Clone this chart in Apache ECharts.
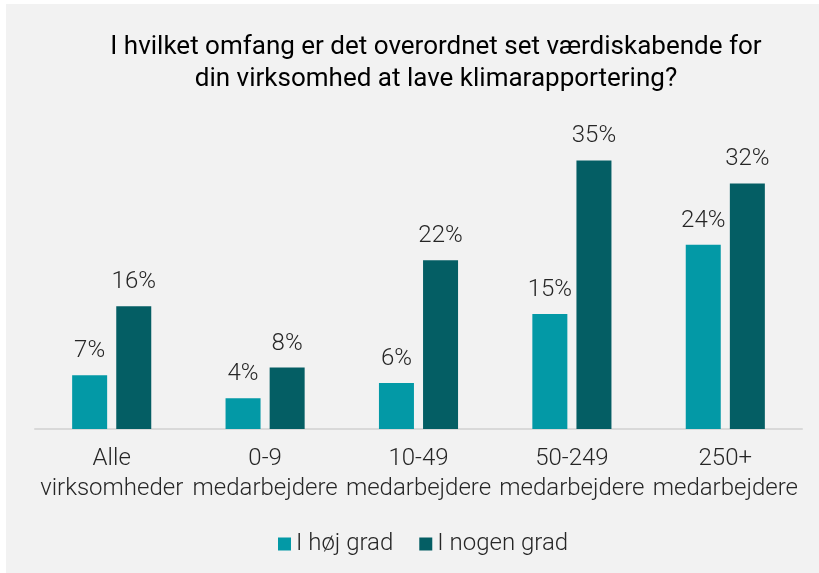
<!DOCTYPE html>
<html>
<head>
<meta charset="utf-8">
<script src="https://cdn.jsdelivr.net/npm/echarts@6/dist/echarts.min.js"></script>
<style>
  html, body { margin: 0; padding: 0; background: #ffffff; }
  #panel { position: absolute; left: 6px; top: 4px; width: 813px; height: 569px; background: #f2f2f2; }
  #chart { position: absolute; left: 0; top: 0; width: 819px; height: 573px; }
</style>
</head>
<body>
<div id="panel"></div>
<div id="chart"></div>
<script>
// kategorier og værdier (%)
const categories = ['Alle\nvirksomheder', '0-9\nmedarbejdere', '10-49\nmedarbejdere', '50-249\nmedarbejdere', '250+\nmedarbejdere']
const hojGrad = [7, 4, 6, 15, 24]
const nogenGrad = [16, 8, 22, 35, 32]
const seriesNames = ['I høj grad', 'I nogen grad']

const font = 'Roboto, "Noto Sans", sans-serif'
const chart = echarts.init(document.getElementById('chart'))

const labelStyle = {
  show: true,
  position: 'top',
  distance: 12,
  formatter: '{c}%',
  fontFamily: font,
  fontWeight: 300,
  fontSize: 24,
  color: '#262626'
}

chart.setOption({
  backgroundColor: 'transparent',
  title: {
    text: 'I hvilket omfang er det overordnet set værdiskabende for\ndin virksomhed at lave klimarapportering?',
    left: 431,
    top: 26,
    textAlign: 'center',
    textStyle: {
      fontFamily: font,
      fontWeight: 'normal',
      fontSize: 26,
      lineHeight: 32,
      color: '#000000'
    }
  },
  legend: {
    top: 527,
    left: 273,
    itemWidth: 13,
    itemHeight: 13,
    itemGap: 26,
    icon: 'rect',
    textStyle: {
      fontFamily: font,
      fontWeight: 300,
      fontSize: 24,
      color: '#262626'
    },
    data: seriesNames
  },
  grid: {
    left: 35,
    right: 17,
    top: 122,
    bottom: 144
  },
  xAxis: {
    type: 'category',
    data: categories,
    axisLine: { lineStyle: { color: '#d9d9d9', width: 2 } },
    axisTick: { show: false },
    axisLabel: {
      interval: 0,
      margin: 15,
      fontFamily: font,
      fontWeight: 300,
      fontSize: 24,
      lineHeight: 30,
      color: '#262626'
    }
  },
  yAxis: {
    type: 'value',
    min: 0,
    max: 40,
    show: false,
    splitLine: { show: false }
  },
  series: [{
    name: seriesNames[0],
    type: 'bar',
    barWidth: 35,
    barGap: '26%',
    itemStyle: { color: '#0399a6' },
    label: labelStyle,
    data: hojGrad
  }, {
    name: seriesNames[1],
    type: 'bar',
    barWidth: 35,
    itemStyle: { color: '#045e64' },
    label: labelStyle,
    data: nogenGrad
  }]
})
</script>
</body>
</html>
